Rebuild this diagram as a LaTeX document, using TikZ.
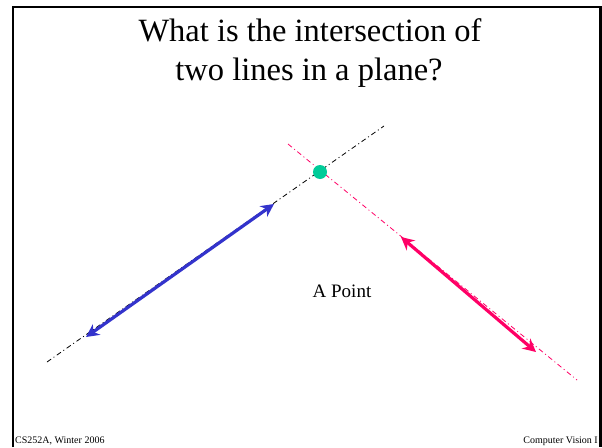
\documentclass[tikz,border=0pt]{standalone}
\usepackage{fontspec}
\setmainfont{Liberation Serif}
\usetikzlibrary{arrows.meta}
\definecolor{myblue}{RGB}{51,51,204}
\definecolor{myred}{RGB}{255,0,102}
\definecolor{mygreen}{RGB}{0,204,153}
\tikzset{
  frame/.style={line width=2.5pt,black},
  dline/.style={line width=0.8pt,dash pattern=on 5pt off 3pt on 1pt off 3pt},
  dblarrow/.style={line width=3.2pt,{Stealth[length=13pt,width=13pt]}-{Stealth[length=13pt,width=13pt]}},
  titletext/.style={font=\fontsize{32.5}{39}\selectfont,anchor=base,inner sep=0pt},
  foot/.style={font=\fontsize{10}{11}\selectfont,inner sep=0pt}
}
\begin{document}
\begin{tikzpicture}[x=1pt,y=-1pt]
\useasboundingbox (0,0) rectangle (602,447);
\fill[white] (0,0) rectangle (602,447);
\coordinate (fl) at (13,447);
\coordinate (ftl) at (13,7);
\coordinate (ftr) at (600.5,7);
\coordinate (fr) at (600.5,447);
\draw[frame] (fl) -- (ftl) -- (ftr) -- (fr);
\node[titletext] (title1) at (310,41) {What is the intersection of};
\node[titletext] (title2) at (309,80) {two lines in a plane?};
\coordinate (b1) at (47,362);
\coordinate (b2) at (384,126);
\draw[dline,black] (b1) -- (b2);
\coordinate (r1) at (288,144);
\coordinate (r2) at (577,380);
\draw[dline,myred] (r1) -- (r2);
\coordinate (ba) at (86,337);
\coordinate (bb) at (274,204);
\draw[dblarrow,myblue] (ba) -- (bb);
\coordinate (ra) at (401,237);
\coordinate (rb) at (536,352);
\draw[dblarrow,myred] (ra) -- (rb);
\node[circle,fill=mygreen,minimum size=14pt,inner sep=0pt] (pt) at (320,172) {};
\node[font=\fontsize{19}{22}\selectfont,anchor=base,inner sep=0pt] (lbl) at (342,297) {A Point};
\node[foot,anchor=base west] (fl1) at (15,443) {CS252A, Winter 2006};
\node[foot,anchor=base east] (fr1) at (598,443) {Computer Vision I};
\end{tikzpicture}
\end{document}
